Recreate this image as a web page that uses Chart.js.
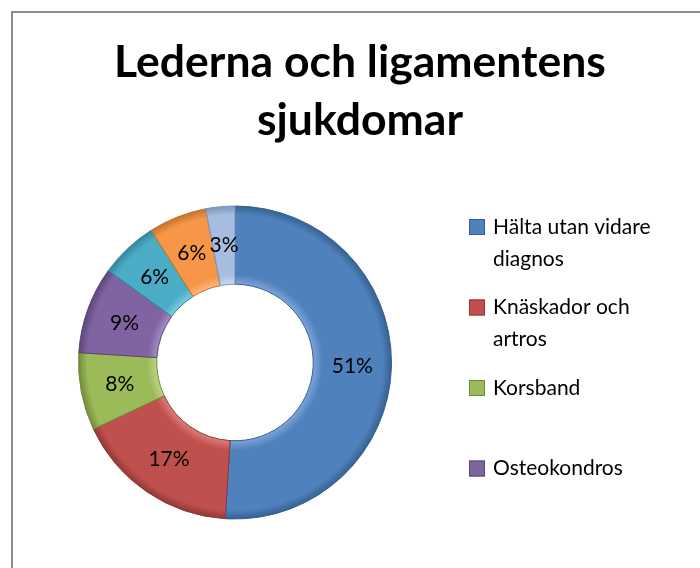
<!DOCTYPE html>
<html>
<head>
<meta charset="utf-8">
<script src="https://cdn.jsdelivr.net/npm/chart.js@4"></script>
<style>
  body { margin: 0; background: #fff; }
  #wrap { position: relative; width: 700px; height: 568px; }
  #frame { position: absolute; left: 11px; top: 11px; width: 700px; height: 600px;
           border-left: 2px solid #8c8c8c; border-top: 2px solid #8c8c8c; pointer-events: none; }
</style>
</head>
<body>
<div id="wrap">
  <canvas id="sjukdomarChart" width="700" height="568"></canvas>
  <div id="frame"></div>
</div>
<script>
// Data
const kategorier = ['Hälta utan vidare diagnos', 'Knäskador och artros', 'Korsband', 'Osteokondros',
                    'Kategori 5', 'Kategori 6', 'Kategori 7'];
const andelar = [51, 17, 8, 9, 6, 6, 3];
const farger = ['#4F81BD', '#C0504D', '#9BBB59', '#8064A2', '#4BACC6', '#F79646', '#A7BDE0'];
const ljusa = ['#7DA3D6', '#DB7C79', '#B9D486', '#A28BC2', '#7CCBDE', '#FBB67E', '#CAD8EE'];
const kanter = ['#35608F', '#8E3836', '#718A3B', '#5A4676', '#31849A', '#C0702D', '#7A93BB'];
const titel = ['Lederna och ligamentens', 'sjukdomar'];
const synligaILegend = 4; // the original legend is cut off after 4 entries

// slight bevel look: lighter at the hole, darker at the rim
function fyllning(c) {
    const a = c.chart.chartArea;
    const i = c.dataIndex;
    if (!a) return farger[i];
    const cx = (a.left + a.right) / 2, cy = (a.top + a.bottom) / 2;
    const r = Math.min(a.right - a.left, a.bottom - a.top) / 2;
    const g = c.chart.ctx.createRadialGradient(cx, cy, r * 0.5, cx, cy, r);
    g.addColorStop(0, ljusa[i]);
    g.addColorStop(0.12, farger[i]);
    g.addColorStop(0.88, farger[i]);
    g.addColorStop(1, kanter[i]);
    return g;
}

// title drawn by hand so it can be centred over the whole frame
const egenTitel = {
    id: 'egenTitel',
    afterDraw(chart) {
        const ctx = chart.ctx;
        ctx.save();
        ctx.font = 'bold 44.5px Lato';
        ctx.fillStyle = '#000';
        ctx.textAlign = 'center';
        ctx.textBaseline = 'alphabetic';
        titel.forEach((t, j) => ctx.fillText(t, 360, 77 + j * 58));
        ctx.restore();
    }
};

// percent labels in the slices
const procentEtiketter = {
    id: 'procentEtiketter',
    afterDatasetsDraw(chart) {
        const ctx = chart.ctx;
        const meta = chart.getDatasetMeta(0);
        ctx.save();
        ctx.font = '21px Lato';
        ctx.fillStyle = '#000';
        ctx.textAlign = 'center';
        ctx.textBaseline = 'middle';
        meta.data.forEach((arc, i) => {
            const p = arc.tooltipPosition();
            ctx.fillText(andelar[i] + '%', p.x, p.y);
        });
        ctx.restore();
    }
};

// legend drawn by hand so the labels can wrap like in Excel
const egenLegend = {
    id: 'egenLegend',
    afterDraw(chart) {
        const ctx = chart.ctx;
        const x0 = 469, y0 = 227, steg = 80.5, radH = 32, maxBredd = 195;
        ctx.save();
        ctx.font = '21px Lato';
        ctx.textBaseline = 'middle';
        for (let i = 0; i < synligaILegend; i++) {
            const y = y0 + i * steg;
            ctx.fillStyle = farger[i];
            ctx.fillRect(x0, y - 8, 16, 16);
            ctx.strokeStyle = kanter[i];
            ctx.lineWidth = 1;
            ctx.strokeRect(x0 + 0.5, y - 7.5, 15, 15);
            // word wrap
            const ord = chart.data.labels[i].split(' ');
            const rader = [];
            let rad = '';
            ord.forEach(w => {
                const test = rad ? rad + ' ' + w : w;
                if (ctx.measureText(test).width > maxBredd && rad) {
                    rader.push(rad);
                    rad = w;
                } else {
                    rad = test;
                }
            });
            rader.push(rad);
            ctx.fillStyle = '#000';
            rader.forEach((r, j) => ctx.fillText(r, x0 + 24, y + j * radH));
        }
        ctx.restore();
    }
};

const ctx = document.getElementById('sjukdomarChart').getContext('2d');
new Chart(ctx, {
    type: 'doughnut',
    data: {
        labels: kategorier,
        datasets: [{
            data: andelar,
            backgroundColor: fyllning,
            borderColor: kanter,
            borderWidth: 1
        }]
    },
    options: {
        responsive: false,
        animation: false,
        cutout: '50%',
        layout: {
            padding: { left: 78, right: 308, top: 205, bottom: 48 }
        },
        plugins: {
            legend: { display: false },
            tooltip: { enabled: false },
            title: { display: false }
        }
    },
    plugins: [egenTitel, procentEtiketter, egenLegend]
});
</script>
</body>
</html>
